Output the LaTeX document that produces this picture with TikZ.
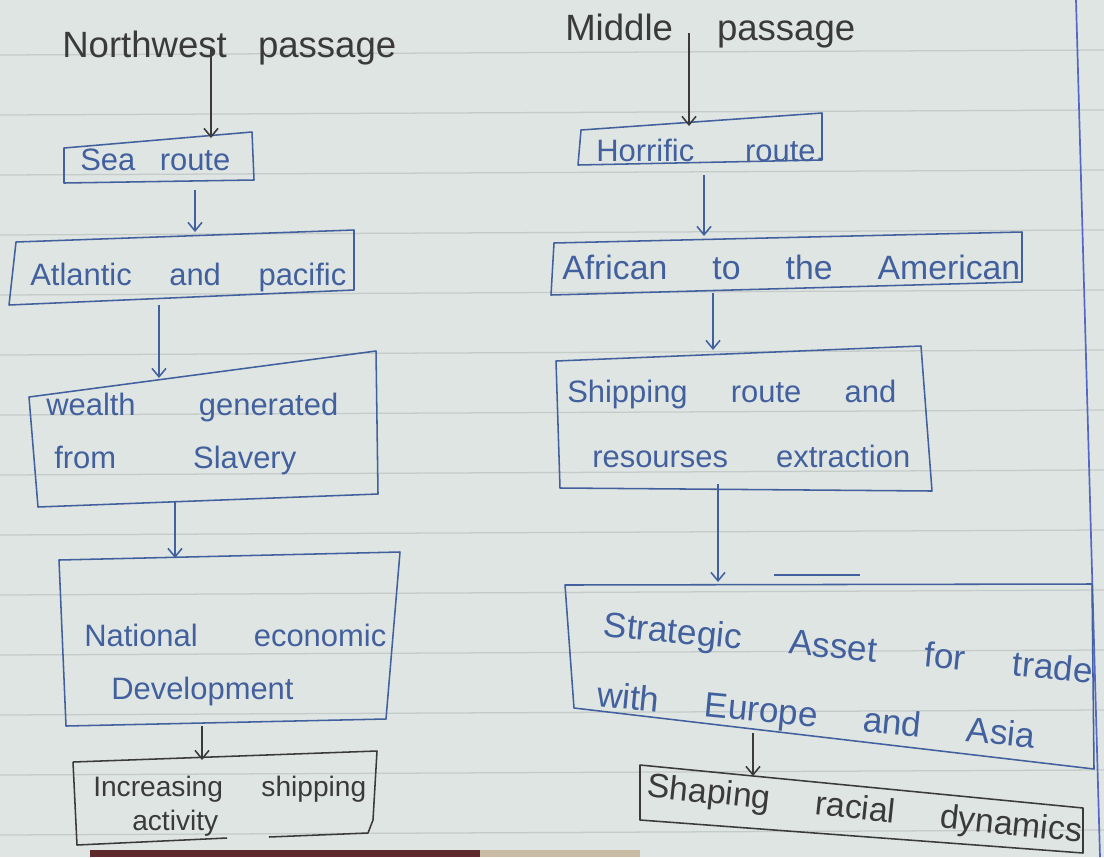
\documentclass[tikz,border=0pt]{standalone}
\usepackage{fontspec}
\setmainfont{Liberation Sans}
\usetikzlibrary{arrows.meta}
\newlength\pxu \setlength\pxu{0.025cm}
\newcommand{\hw}[2]{\makebox[#1\pxu][s]{#2}}
\definecolor{paper}{HTML}{DFE5E2}
\definecolor{rule}{HTML}{C4CBC9}
\definecolor{margin}{HTML}{5566C4}
\definecolor{ink}{HTML}{42609E}
\definecolor{pencil}{HTML}{3A3A3A}
\definecolor{table}{HTML}{5E2A2C}
\definecolor{tan}{HTML}{C9BBA4}
\begin{document}
\begin{tikzpicture}[x=0.025cm,y=-0.025cm,
  lbl/.style={inner sep=0pt, anchor=west, text=ink},
  dlbl/.style={lbl, text=pencil},
  box/.style={draw=ink, line width=1.1pt, line join=round},
  dbox/.style={box, draw=pencil},
  arr/.style={draw=ink, line width=1.1pt, -{Straight Barb[length=6pt,width=10pt]}},
  darr/.style={arr, draw=pencil}]
\useasboundingbox (0,0) rectangle (1104,857);
\fill[paper] (0,0) rectangle (1104,857);
\foreach \k in {0,...,13} {\draw[rule, line width=0.9pt] (0,55+60*\k) -- (1104,50+60*\k);}
\draw[margin, line width=1.2pt] (1076,0) -- (1100,857);
\fill[table] (90,850) rectangle (480,857);
\fill[tan] (480,850) rectangle (640,857);

% titles
\node[dlbl, font=\fontsize{26}{30}\selectfont] (nw) at (62,48) {\hw{334}{Northwest passage}};
\node[dlbl, font=\fontsize{26}{30}\selectfont] (mp) at (565,31) {\hw{290}{Middle passage}};

% left column
\node[lbl, font=\fontsize{22}{26}\selectfont] (sea) at (80,160) {\hw{150}{Sea route}};
\draw[box] (64,148) -- (252,132) -- (254,180) -- (64,183) -- cycle;

\node[lbl, font=\fontsize{22}{26}\selectfont] (atl) at (30,277) {\hw{316}{Atlantic and pacific}};
\draw[box] (16,242) -- (354,230) -- (354,290) -- (9,305) -- cycle;

\node[lbl, font=\fontsize{22}{37}\selectfont, align=left] (wea) at (46,434)
  {\hw{292}{wealth generated}\\\hspace*{8\pxu}\hw{242}{from Slavery}};
\draw[box] (29,397) -- (376,351) -- (378,494) -- (38,507) -- cycle;

\node[lbl, font=\fontsize{22}{38}\selectfont, align=left] (nat) at (84,665)
  {\hw{302}{National economic}\\\hspace*{27\pxu}Development};
\draw[box] (59,560) -- (400,552) -- (386,719) -- (66,726) -- cycle;

\node[dlbl, font=\fontsize{20}{24}\selectfont, align=left] (inc) at (93,806)
  {\hw{273}{Increasing shipping}\\\hspace*{39\pxu}activity};
\draw[dbox] (73,762) -- (377,751) -- (373,820) -- (368,833) -- (269,837);
\draw[dbox] (227,838) -- (77,845) -- (73,762);

% right column
\node[lbl, font=\fontsize{22}{26}\selectfont] (hor) at (596,150) {\hw{228}{Horrific route.}};
\draw[box] (581,130) -- (822,113) -- (822,160) -- (578,165) -- cycle;

\node[lbl, font=\fontsize{24}{28}\selectfont] (afr) at (562,267) {\hw{458}{African to the American}};
\draw[box] (554,243) -- (1022,232) -- (1022,282) -- (551,295) -- cycle;

\node[lbl, font=\fontsize{22}{46}\selectfont, align=left] (shi) at (567,424)
  {\hw{329}{Shipping route and}\\\hspace*{25\pxu}\hw{318}{resourses extraction}};
\draw[box] (556,361) -- (921,346) -- (932,491) -- (560,488) -- cycle;

\draw[box] (774,575) -- (860,575);
\node[lbl, font=\fontsize{25}{50}\selectfont, align=left, rotate=-5.5] (sa) at (600,662)
  {\hw{491}{Strategic Asset for trade}\\\hw{440}{with Europe and Asia}};
\draw[box] (565,585) -- (1092,584) -- (1094,769) -- (574,708) -- cycle;

\node[dlbl, font=\fontsize{24}{28}\selectfont, rotate=-6] (sha) at (647,788) {\hw{437}{Shaping racial dynamics}};
\draw[dbox] (640,765) -- (1083,808) -- (1083,853) -- (640,820) -- cycle;

% connectors
\coordinate (nwA) at (211,47);   \coordinate (seaT) at (211,138);
\coordinate (seaB) at (195,190); \coordinate (atlT) at (195,232);
\coordinate (atlB) at (159,305); \coordinate (weaT) at (159,378);
\coordinate (weaB) at (175,501); \coordinate (natT) at (175,558);
\coordinate (natB) at (202,726); \coordinate (incT) at (202,760);
\coordinate (mpA) at (689,33);   \coordinate (horT) at (689,126);
\coordinate (horB) at (704,175); \coordinate (afrT) at (704,236);
\coordinate (afrB) at (713,293); \coordinate (shiT) at (713,350);
\coordinate (shiB) at (718,484); \coordinate (saT) at (718,582);
\coordinate (saB) at (753,733);  \coordinate (shaT) at (753,776);
\draw[darr] (nwA) -- (seaT);
\draw[arr] (seaB) -- (atlT);
\draw[arr] (atlB) -- (weaT);
\draw[arr] (weaB) -- (natT);
\draw[darr] (natB) -- (incT);
\draw[darr] (mpA) -- (horT);
\draw[arr] (horB) -- (afrT);
\draw[arr] (afrB) -- (shiT);
\draw[arr] (shiB) -- (saT);
\draw[darr] (saB) -- (shaT);
\end{tikzpicture}
\end{document}
